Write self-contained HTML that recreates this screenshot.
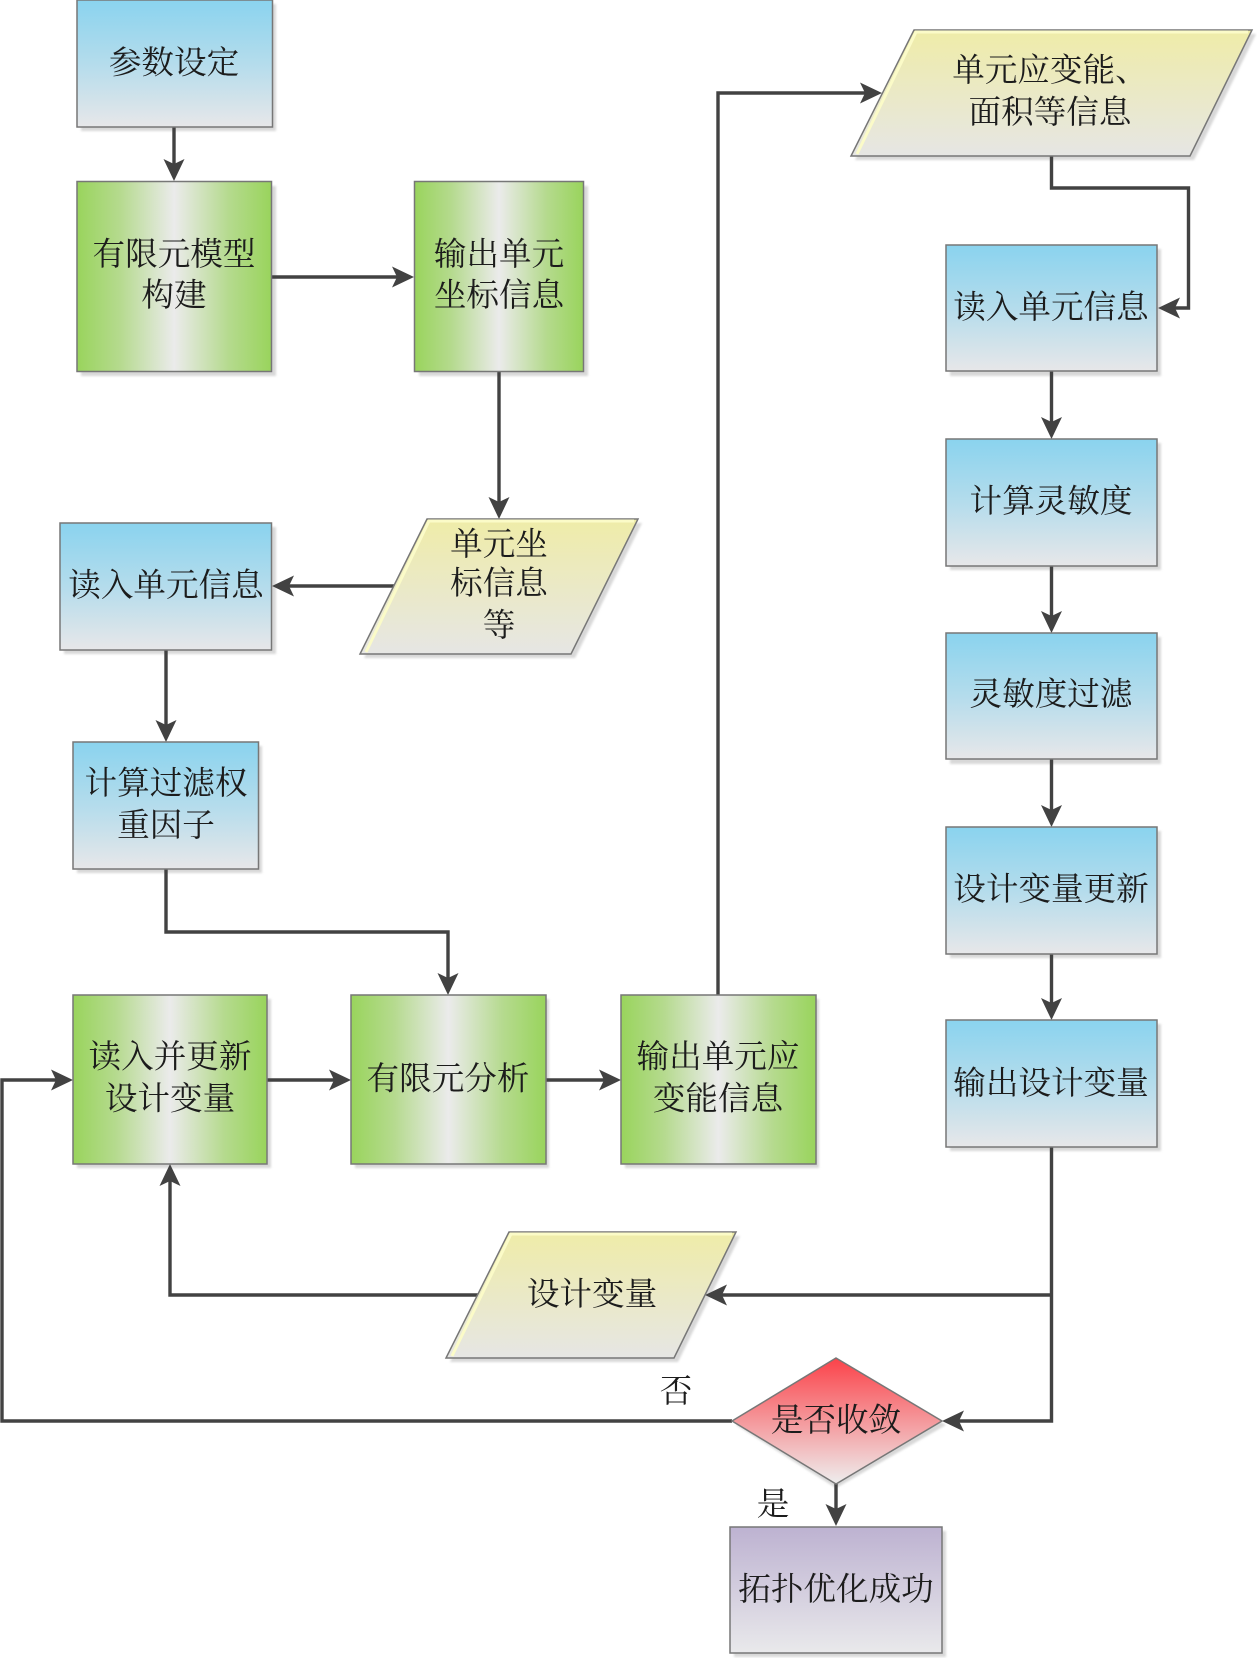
<!DOCTYPE html>
<html lang="zh">
<head>
<meta charset="utf-8">
<title>拓扑优化流程图</title>
<style>
html,body{margin:0;padding:0;background:#fff;}
svg{display:block;}
text{font-family:"Liberation Serif","Noto Serif CJK SC",serif;font-size:32.6px;fill:#1c1c1c;text-anchor:middle;dominant-baseline:central;}
.s{fill:#d8d8d8;filter:url(#sb);}
.b{stroke:#777;stroke-width:1.5;}
.l{fill:none;stroke:#424242;stroke-width:3.4;stroke-linejoin:miter;}
.a{fill:#424242;}
.h{fill:none;stroke:#fbfbc8;stroke-width:3;}
</style>
</head>
<body>
<svg width="1257" height="1658" viewBox="0 0 1257 1658" xmlns="http://www.w3.org/2000/svg">
<defs>
<filter id="sb" x="-5%" y="-5%" width="110%" height="110%"><feGaussianBlur stdDeviation="1"/></filter>
<linearGradient id="blue" x1="0" y1="0" x2="0" y2="1"><stop offset="0" stop-color="#8ad3ee"/><stop offset="0.5" stop-color="#b4dcec"/><stop offset="1" stop-color="#e7e7e9"/></linearGradient>
<linearGradient id="green" x1="0" y1="0" x2="1" y2="0"><stop offset="0" stop-color="#99d45c"/><stop offset="0.22" stop-color="#b5da8e"/><stop offset="0.5" stop-color="#ebebeb"/><stop offset="0.78" stop-color="#b5da8e"/><stop offset="1" stop-color="#99d45c"/></linearGradient>
<linearGradient id="yellow" x1="0" y1="0" x2="0" y2="1"><stop offset="0" stop-color="#efeca8"/><stop offset="1" stop-color="#e6e6e4"/></linearGradient>
<linearGradient id="red" x1="0" y1="0" x2="0" y2="1"><stop offset="0" stop-color="#fb4249"/><stop offset="1" stop-color="#eeeeee"/></linearGradient>
<linearGradient id="purple" x1="0" y1="0" x2="0" y2="1"><stop offset="0" stop-color="#bdb2d1"/><stop offset="1" stop-color="#e9e9eb"/></linearGradient>
</defs>
<rect width="1257" height="1658" fill="#fff"/>

<!-- shadows -->
<rect class="s" x="81" y="4" width="195" height="127"/>
<rect class="s" x="81" y="186" width="195" height="190"/>
<rect class="s" x="419" y="186" width="169" height="190"/>
<rect class="s" x="64" y="527" width="212" height="127"/>
<rect class="s" x="77" y="746" width="185" height="127"/>
<rect class="s" x="77" y="999" width="194" height="169"/>
<rect class="s" x="355" y="999" width="194" height="169"/>
<rect class="s" x="625" y="999" width="194" height="169"/>
<rect class="s" x="950" y="249" width="211" height="127"/>
<rect class="s" x="950" y="443" width="211" height="127"/>
<rect class="s" x="950" y="637" width="211" height="127"/>
<rect class="s" x="950" y="831" width="211" height="127"/>
<rect class="s" x="950" y="1024" width="211" height="127"/>
<rect class="s" x="734" y="1531" width="212" height="126"/>
<polygon class="s" points="918,34 1256,34 1194,160 855,160"/>
<polygon class="s" points="431,523 642,523 575,658 364,658"/>
<polygon class="s" points="513,1236 740,1236 678,1362 450,1362"/>
<polygon class="s" points="836,1362 946,1425 836,1488 736,1425"/>

<!-- connectors -->
<path class="l" d="M174 127V170"/>
<path class="l" d="M272 277H398"/>
<path class="l" d="M499 371V505"/>
<path class="l" d="M394 586H285"/>
<path class="l" d="M166 650V728"/>
<path class="l" d="M166 869V932H448V980"/>
<path class="l" d="M267 1080H337"/>
<path class="l" d="M545 1080H607"/>
<path class="l" d="M718 995V93H866"/>
<path class="l" d="M1051.500 156V188H1188.500V308H1172"/>
<path class="l" d="M1051.500 371V425"/>
<path class="l" d="M1051.500 566V619"/>
<path class="l" d="M1051.500 759V813"/>
<path class="l" d="M1051.500 954V1006"/>
<path class="l" d="M1051.500 1147V1421H958"/>
<path class="l" d="M1051.500 1295H720"/>
<path class="l" d="M478 1295H170V1178"/>
<path class="l" d="M732 1421H2V1080H59"/>
<path class="l" d="M836 1484V1512"/>

<!-- arrowheads -->
<polygon class="a" points="174,181 163.500,159 174,164 184.500,159"/>
<polygon class="a" points="414,277 392,266.500 397,277 392,287.500"/>
<polygon class="a" points="499,519 488.500,497 499,502 509.500,497"/>
<polygon class="a" points="272,586 294,575.500 289,586 294,596.500"/>
<polygon class="a" points="166,742 155.500,720 166,725 176.500,720"/>
<polygon class="a" points="448,995 437.500,973 448,978 458.500,973"/>
<polygon class="a" points="73,1080 51,1069.500 56,1080 51,1090.500"/>
<polygon class="a" points="351,1080 329,1069.500 334,1080 329,1090.500"/>
<polygon class="a" points="621,1080 599,1069.500 604,1080 599,1090.500"/>
<polygon class="a" points="882,93 860,82.500 865,93 860,103.500"/>
<polygon class="a" points="1158,308 1180,297.500 1175,308 1180,318.500"/>
<polygon class="a" points="1051.500,439 1041,417 1051.500,422 1062,417"/>
<polygon class="a" points="1051.500,633 1041,611 1051.500,616 1062,611"/>
<polygon class="a" points="1051.500,827 1041,805 1051.500,810 1062,805"/>
<polygon class="a" points="1051.500,1020 1041,998 1051.500,1003 1062,998"/>
<polygon class="a" points="705,1295 727,1284.500 722,1295 727,1305.500"/>
<polygon class="a" points="942,1421 964,1410.500 959,1421 964,1431.500"/>
<polygon class="a" points="170,1164 159.500,1186 170,1181 180.500,1186"/>
<polygon class="a" points="836,1526 825.500,1504 836,1509 846.500,1504"/>

<!-- shapes -->
<rect class="b" x="77" y="0" width="195.500" height="127" fill="url(#blue)"/>
<rect class="b" x="77" y="181.500" width="194.500" height="190" fill="url(#green)"/>
<rect class="b" x="414.500" y="181.500" width="169" height="190" fill="url(#green)"/>
<rect class="b" x="60" y="523" width="211.500" height="127" fill="url(#blue)"/>
<rect class="b" x="73" y="742" width="185.500" height="127" fill="url(#blue)"/>
<rect class="b" x="73" y="995" width="194" height="169" fill="url(#green)"/>
<rect class="b" x="351" y="995" width="195" height="169" fill="url(#green)"/>
<rect class="b" x="621" y="995" width="195" height="169" fill="url(#green)"/>
<rect class="b" x="946" y="245" width="211" height="126" fill="url(#blue)"/>
<rect class="b" x="946" y="439" width="211" height="127" fill="url(#blue)"/>
<rect class="b" x="946" y="633" width="211" height="126" fill="url(#blue)"/>
<rect class="b" x="946" y="827" width="211" height="127" fill="url(#blue)"/>
<rect class="b" x="946" y="1020" width="211" height="127" fill="url(#blue)"/>
<rect class="b" x="730" y="1527" width="212" height="126" fill="url(#purple)"/>
<polygon class="b" points="914,30 1252,30 1190,156 851,156" fill="url(#yellow)"/>
<polygon class="b" points="427,519 638,519 571,654 360,654" fill="url(#yellow)"/>
<polygon class="b" points="509,1232 736,1232 674,1358 446,1358" fill="url(#yellow)"/>
<polygon class="b" points="836,1358 942,1421 836,1484 732,1421" fill="url(#red)"/>
<path class="h" d="M857,154 L916,32 H1248"/>
<path class="h" d="M366,652 L429,521 H634"/>
<path class="h" d="M452,1356 L511,1234 H732"/>

<!-- labels -->
<text x="174" y="63.500">参数设定</text>
<text x="174" y="255">有限元模型</text>
<text x="174" y="296">构建</text>
<text x="499" y="255">输出单元</text>
<text x="499" y="296">坐标信息</text>
<text x="499" y="545">单元坐</text>
<text x="499" y="584">标信息</text>
<text x="499" y="626">等</text>
<text x="166" y="586">读入单元信息</text>
<text x="166" y="784">计算过滤权</text>
<text x="166" y="826">重因子</text>
<text x="170" y="1057.500">读入并更新</text>
<text x="170" y="1099.500">设计变量</text>
<text x="448" y="1079.500">有限元分析</text>
<text x="718" y="1057.500">输出单元应</text>
<text x="718" y="1099.500">变能信息</text>
<text x="1050" y="71">单元应变能、</text>
<text x="1050" y="113">面积等信息</text>
<text x="1051" y="308">读入单元信息</text>
<text x="1051" y="502">计算灵敏度</text>
<text x="1051" y="695">灵敏度过滤</text>
<text x="1051" y="890">设计变量更新</text>
<text x="1051" y="1084">输出设计变量</text>
<text x="592" y="1295">设计变量</text>
<text x="676" y="1392">否</text>
<text x="836" y="1421">是否收敛</text>
<text x="773" y="1505">是</text>
<text x="836" y="1590">拓扑优化成功</text>
</svg>
</body>
</html>
